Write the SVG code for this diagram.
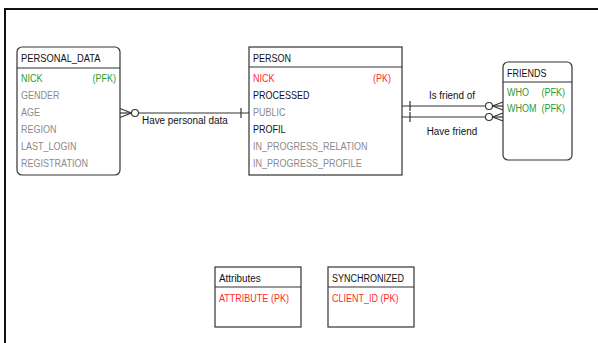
<svg xmlns="http://www.w3.org/2000/svg" width="598" height="343" viewBox="0 0 598 343">
<style>
text{font-family:"Liberation Sans",Arial,sans-serif;font-size:11px;fill:#111}
.g{fill:#8a8a8a}.gr{fill:#2e9a2e}.r{fill:#ff2a2a}.k{fill:#111}
.box{fill:#fff;stroke:#333;stroke-width:1.2}
.sep{stroke:#333;stroke-width:1.2}
.c{stroke:#333;stroke-width:1.2;fill:none}
.ci{stroke:#333;stroke-width:1.1;fill:#fff}
</style>
<rect width="598" height="343" fill="#fff"/>
<path d="M5,343 V9 H598" fill="none" stroke="#111" stroke-width="2"/>
<g id="connectors">
<g id="have-personal-data">
<line class="c" x1="120" y1="113" x2="131.5" y2="113"/>
<line class="c" x1="120" y1="108.5" x2="131.5" y2="113"/>
<line class="c" x1="120" y1="117.5" x2="131.5" y2="113"/>
<circle class="ci" cx="135" cy="113" r="3.5"/>
<line class="c" x1="138.5" y1="113" x2="249" y2="113"/>
<line class="c" x1="241" y1="108" x2="241" y2="118"/>
<text transform="translate(142,124) scale(0.9,1)">Have personal data</text>
</g>
<g id="is-friend-of">
<line class="c" x1="402" y1="106" x2="485.5" y2="106"/>
<line class="c" x1="410" y1="101" x2="410" y2="111"/>
<circle class="ci" cx="489" cy="106" r="3.5"/>
<line class="c" x1="492.5" y1="106" x2="503" y2="106"/>
<line class="c" x1="492.5" y1="106" x2="503" y2="102"/>
<line class="c" x1="492.5" y1="106" x2="503" y2="110"/>
<text transform="translate(452,99) scale(0.9,1)" text-anchor="middle">Is friend of</text>
</g>
<g id="have-friend">
<line class="c" x1="402" y1="117" x2="485.5" y2="117"/>
<line class="c" x1="410" y1="112" x2="410" y2="122"/>
<circle class="ci" cx="489" cy="117" r="3.5"/>
<line class="c" x1="492.5" y1="117" x2="503" y2="117"/>
<line class="c" x1="492.5" y1="117" x2="503" y2="113"/>
<line class="c" x1="492.5" y1="117" x2="503" y2="121"/>
<text transform="translate(452,135) scale(0.9,1)" text-anchor="middle">Have friend</text>
</g>
</g>
<g id="personal_data">
<rect class="box" x="17" y="47" width="103" height="128" rx="5"/>
<line class="sep" x1="17" y1="68" x2="120" y2="68"/>
<text transform="translate(21,62) scale(0.85,1)">PERSONAL_DATA</text>
<text class="gr" transform="translate(21,82) scale(0.82,1)">NICK</text>
<text class="gr" transform="translate(116,82) scale(0.82,1)" text-anchor="end">(PFK)</text>
<text class="g" transform="translate(21,99) scale(0.82,1)">GENDER</text>
<text class="g" transform="translate(21,116) scale(0.82,1)">AGE</text>
<text class="g" transform="translate(21,133) scale(0.82,1)">REGION</text>
<text class="g" transform="translate(21,150) scale(0.82,1)">LAST_LOGIN</text>
<text class="g" transform="translate(21,167) scale(0.82,1)">REGISTRATION</text>
</g>
<g id="person">
<rect class="box" x="249" y="47" width="153" height="128"/>
<line class="sep" x1="249" y1="67" x2="402" y2="67"/>
<text transform="translate(253,62) scale(0.82,1)">PERSON</text>
<text class="r" transform="translate(253,82) scale(0.82,1)">NICK</text>
<text class="r" transform="translate(391,82) scale(0.82,1)" text-anchor="end">(PK)</text>
<text class="k" transform="translate(253,99) scale(0.82,1)">PROCESSED</text>
<text class="g" transform="translate(253,116) scale(0.82,1)">PUBLIC</text>
<text class="k" transform="translate(253,133) scale(0.82,1)">PROFIL</text>
<text class="g" transform="translate(253,150) scale(0.82,1)">IN_PROGRESS_RELATION</text>
<text class="g" transform="translate(253,167) scale(0.82,1)">IN_PROGRESS_PROFILE</text>
</g>
<g id="friends">
<rect class="box" x="503" y="62" width="69" height="98" rx="5"/>
<line class="sep" x1="503" y1="82" x2="572" y2="82"/>
<text transform="translate(507,77) scale(0.82,1)">FRIENDS</text>
<text class="gr" transform="translate(507,96) scale(0.82,1)">WHO</text>
<text class="gr" transform="translate(565,96) scale(0.82,1)" text-anchor="end">(PFK)</text>
<text class="gr" transform="translate(507,112) scale(0.82,1)">WHOM</text>
<text class="gr" transform="translate(565,112) scale(0.82,1)" text-anchor="end">(PFK)</text>
</g>
<g id="attributes">
<rect class="box" x="215" y="267" width="86" height="60"/>
<line class="sep" x1="215" y1="287" x2="301" y2="287"/>
<text transform="translate(219,282) scale(0.9,1)">Attributes</text>
<text class="r" transform="translate(219,302) scale(0.82,1)">ATTRIBUTE (PK)</text>
</g>
<g id="synchronized">
<rect class="box" x="328" y="267" width="86" height="60"/>
<line class="sep" x1="328" y1="287" x2="414" y2="287"/>
<text transform="translate(332,282) scale(0.82,1)">SYNCHRONIZED</text>
<text class="r" transform="translate(332,302) scale(0.82,1)">CLIENT_ID (PK)</text>
</g>
</svg>
